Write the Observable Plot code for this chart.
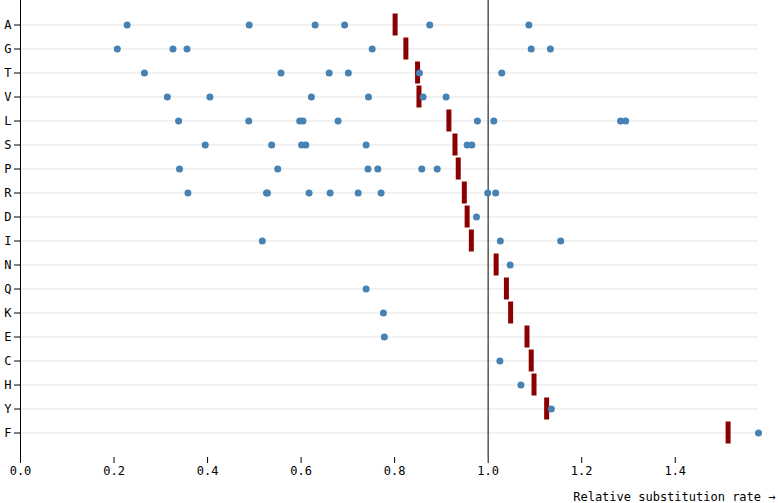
<!DOCTYPE html>
<html>
<head>
<meta charset="utf-8">
<script src="https://cdn.jsdelivr.net/npm/d3@7"></script>
<script src="https://cdn.jsdelivr.net/npm/@observablehq/plot@0.6"></script>
<style>
  body { margin: 0; background: #fff; }
</style>
</head>
<body>
<div id="chart"></div>
<script>
// Amino acids, in display order (top to bottom)
const aminoAcids = ["A","G","T","V","L","S","P","R","D","I","N","Q","K","E","C","H","Y","F"];

// Summary (red tick) value per amino acid
const summaryRates = [0.801, 0.824, 0.849, 0.852, 0.916, 0.929, 0.936, 0.949, 0.955, 0.964,
                      1.017, 1.039, 1.048, 1.083, 1.092, 1.098, 1.125, 1.513];

// Individual relative substitution rates (blue dots) per amino acid
const siteRates = [
  [0.228, 0.489, 0.630, 0.693, 0.875, 1.087],                       // A
  [0.207, 0.326, 0.356, 0.752, 1.092, 1.133],                       // G
  [0.265, 0.557, 0.660, 0.701, 0.853, 1.029],                       // T
  [0.314, 0.405, 0.622, 0.744, 0.861, 0.910],                       // V
  [0.338, 0.488, 0.597, 0.604, 0.679, 0.977, 1.012, 1.283, 1.294],  // L
  [0.395, 0.537, 0.601, 0.610, 0.739, 0.955, 0.965],                // S
  [0.340, 0.550, 0.743, 0.764, 0.858, 0.891],                       // P
  [0.358, 0.526, 0.528, 0.617, 0.662, 0.722, 0.771, 0.999, 1.016],  // R
  [0.975],                                                          // D
  [0.517, 1.026, 1.155],                                            // I
  [1.047],                                                          // N
  [0.739],                                                          // Q
  [0.776],                                                          // K
  [0.778],                                                          // E
  [1.025],                                                          // C
  [1.070],                                                          // H
  [1.135],                                                          // Y
  [1.578]                                                           // F
];

const summaryTable = aminoAcids.map((aa, i) => ({aa, rate: summaryRates[i]}));
const pointTable = aminoAcids.flatMap((aa, i) => siteRates[i].map(rate => ({aa, rate})));

const chart = Plot.plot({
  width: 778,
  height: 503,
  marginTop: 0,
  marginRight: 20,
  marginBottom: 46,
  marginLeft: 20,
  style: {fontFamily: "'DejaVu Sans Mono', monospace", fontSize: "12px", background: "#fff", color: "#000"},
  x: {zero: true, label: "Relative substitution rate →"},
  y: {domain: aminoAcids, label: null, grid: true, padding: 0.63},
  marks: [
    Plot.ruleX([0]),
    Plot.ruleX([1], {stroke: "#555", strokeWidth: 1.5}),
    Plot.tickX(summaryTable, {x: "rate", y: "aa", stroke: "darkred", strokeWidth: 5, insetTop: -6.5, insetBottom: -6.5}),
    Plot.dot(pointTable, {x: "rate", y: "aa", fill: "steelblue", r: 3.5})
  ]
});
document.getElementById("chart").appendChild(chart);
</script>
</body>
</html>
